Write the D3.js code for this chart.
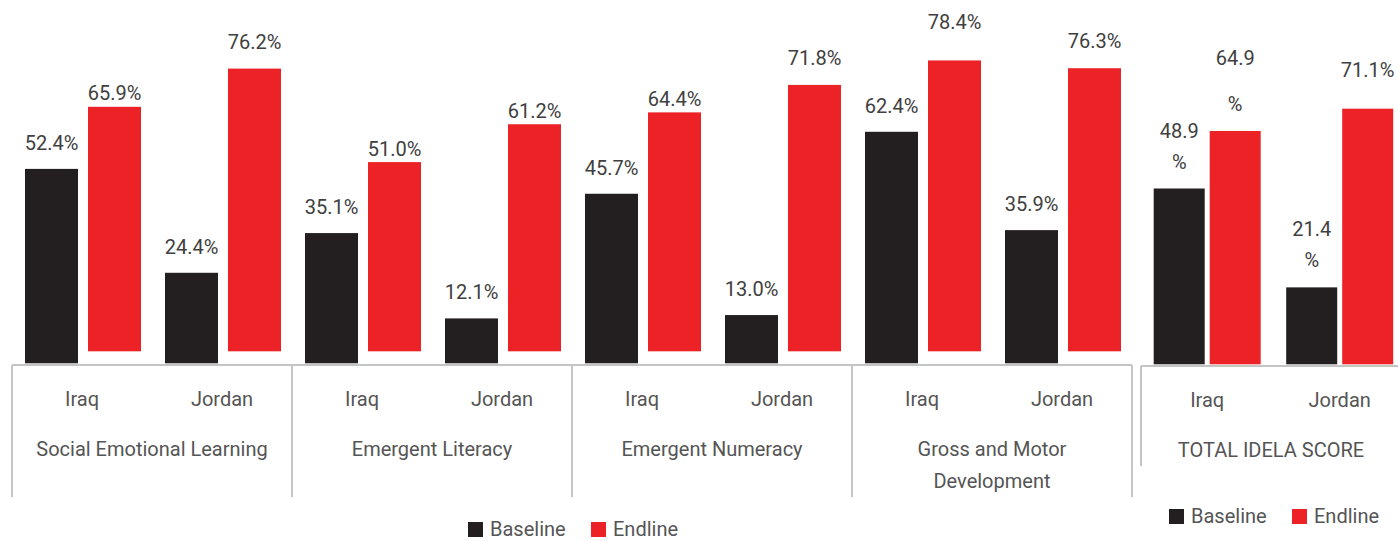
<html>
<head>
  <script src="https://d3js.org/d3.v7.min.js"></script>
  <style>
  body{
    margin: 0;
    background: #fff;
  }
  svg{
    display: block;
    font-family: Roboto, "Noto Sans", sans-serif;
  }
  </style>
</head>
<body>
  <script type="text/javascript">
    // data
    var groups = ["Social Emotional Learning", "Emergent Literacy", "Emergent Numeracy", "Gross and Motor Development"];
    var countries = ["Iraq", "Jordan"];
    var seriesNames = ["Baseline", "Endline"];
    var baseline = [[52.4, 24.4], [35.1, 12.1], [45.7, 13.0], [62.4, 35.9]];
    var endline = [[65.9, 76.2], [51.0, 61.2], [64.4, 71.8], [78.4, 76.3]];
    var totalName = "TOTAL IDELA SCORE";
    var totalBaseline = [48.9, 21.4];
    var totalEndline = [64.9, 71.1];

    // styles
    var width = 1398;
    var height = 541;
    var colors = {"Baseline": "#231f20", "Endline": "#ec2227"};
    var lineColor = "#c4c4c4";
    var textColor = "#555555";
    var labelColor = "#404040";
    var endlineLift = 12;   // endline bars sit a little above the axis
    // small manual nudges for value labels (like in the original slide)
    var labelLift = {"Endline|0|Jordan": 13.5, "Endline|2|Jordan": 13.5, "Endline|3|Jordan": 13.5, "Endline|3|Iraq": 24.5};
    var totalLayout = {
      "Baseline|Iraq": {wrap: true, gap: 31},
      "Baseline|Jordan": {wrap: true, gap: 31},
      "Endline|Iraq": {wrap: true, gap: 46},
      "Endline|Jordan": {wrap: false, lift: 32}
    };
    var fmt = function(v){ return d3.format(".1f")(v) + "%"; };

    var svg = d3.select("body").append("svg")
                .attr("width", width)
                .attr("height", height);

    // ---------- main chart ----------
    var x0 = d3.scaleBand().domain(groups).range([12, 1132]);
    var x1 = d3.scaleBand().domain(countries).range([0, x0.bandwidth()]);
    var x2 = d3.scaleBand().domain(seriesNames).range([13, 129]).paddingInner(0.159);
    var y = d3.scaleLinear().domain([0, 100]).range([363.3, 363.3 - 371]);
    var axisY = 365;

    var rows = [];
    groups.forEach(function(g, gi){
      countries.forEach(function(c, ci){
        rows.push({g: g, gi: gi, c: c, s: "Baseline", v: baseline[gi][ci]});
        rows.push({g: g, gi: gi, c: c, s: "Endline", v: endline[gi][ci]});
      });
    });

    var main = svg.append("g").attr("class", "main");

    main.selectAll("rect")
        .data(rows)
        .enter()
        .append("rect")
        .attr("x", function(d){ return x0(d.g) + x1(d.c) + x2(d.s); })
        .attr("y", function(d){ return y(d.v) - (d.s == "Endline" ? endlineLift : 0); })
        .attr("width", x2.bandwidth())
        .attr("height", function(d){ return y(0) - y(d.v); })
        .attr("fill", function(d){ return colors[d.s]; });

    main.selectAll("text.val")
        .data(rows)
        .enter()
        .append("text")
        .attr("class", "val")
        .text(function(d){ return fmt(d.v); })
        .attr("x", function(d){ return x0(d.g) + x1(d.c) + x2(d.s) + x2.bandwidth() / 2; })
        .attr("y", function(d){
          var top = y(d.v) - (d.s == "Endline" ? endlineLift : 0);
          var gap = d.s == "Endline" ? 6.5 : 19;
          return top - gap - (labelLift[d.s + "|" + d.gi + "|" + d.c] || 0);
        })
        .attr("text-anchor", "middle")
        .attr("fill", labelColor)
        .style("font-size", "20px");

    // axis lines
    main.append("line")
        .attr("x1", 12).attr("x2", 1132)
        .attr("y1", axisY).attr("y2", axisY)
        .attr("stroke", lineColor).attr("stroke-width", 2);
    main.selectAll("line.sep")
        .data(groups.concat(["end"]))
        .enter()
        .append("line")
        .attr("class", "sep")
        .attr("x1", function(d, i){ return 12 + i * x0.bandwidth(); })
        .attr("x2", function(d, i){ return 12 + i * x0.bandwidth(); })
        .attr("y1", axisY).attr("y2", 497)
        .attr("stroke", lineColor).attr("stroke-width", 2);

    // country labels
    groups.forEach(function(g){
      main.append("g").selectAll("text")
          .data(countries)
          .enter()
          .append("text")
          .text(function(d){ return d; })
          .attr("x", function(d){ return x0(g) + x1(d) + x1.bandwidth() / 2; })
          .attr("y", 406)
          .attr("text-anchor", "middle")
          .attr("fill", textColor)
          .style("font-size", "20px");
    });

    // group labels (wrapped)
    var wrapText = function(sel, maxW, lineH){
      sel.each(function(){
        var t = d3.select(this);
        var words = t.text().split(" ");
        var xx = t.attr("x");
        t.text(null);
        var line = [];
        var tsp = t.append("tspan").attr("x", xx);
        words.forEach(function(w){
          line.push(w);
          tsp.text(line.join(" "));
          if (tsp.node().getComputedTextLength() > maxW && line.length > 1) {
            line.pop();
            tsp.text(line.join(" "));
            line = [w];
            tsp = t.append("tspan").attr("x", xx).attr("dy", lineH).text(w);
          }
        });
      });
    };

    main.selectAll("text.grp")
        .data(groups)
        .enter()
        .append("text")
        .attr("class", "grp")
        .text(function(d){ return d; })
        .attr("x", function(d){ return x0(d) + x0.bandwidth() / 2; })
        .attr("y", 456)
        .attr("text-anchor", "middle")
        .attr("fill", textColor)
        .style("font-size", "20px")
        .call(wrapText, 255, 32);

    // ---------- total chart ----------
    var tx = d3.scaleBand().domain(countries).range([1141, 1406]);
    var ts = d3.scaleBand().domain(seriesNames).range([12.7, 119.7]).paddingInner(0.089);
    var ty = d3.scaleLinear().domain([0, 100]).range([364.3, 364.3 - 359.5]);

    var trows = [];
    countries.forEach(function(c, ci){
      trows.push({c: c, s: "Baseline", v: totalBaseline[ci]});
      trows.push({c: c, s: "Endline", v: totalEndline[ci]});
    });

    var tot = svg.append("g").attr("class", "total");

    tot.selectAll("rect")
       .data(trows)
       .enter()
       .append("rect")
       .attr("x", function(d){ return tx(d.c) + ts(d.s); })
       .attr("y", function(d){ return ty(d.v); })
       .attr("width", ts.bandwidth())
       .attr("height", function(d){ return ty(0) - ty(d.v); })
       .attr("fill", function(d){ return colors[d.s]; });

    trows.forEach(function(d){
      var lay = totalLayout[d.s + "|" + d.c];
      var cx = tx(d.c) + ts(d.s) + ts.bandwidth() / 2;
      var top = ty(d.v);
      if (lay.wrap) {
        tot.append("text").text(d3.format(".1f")(d.v))
           .attr("x", cx).attr("y", top - 20 - lay.gap)
           .attr("text-anchor", "middle").attr("fill", labelColor)
           .style("font-size", "20px");
        tot.append("text").text("%")
           .attr("x", cx).attr("y", top - 20)
           .attr("text-anchor", "middle").attr("fill", labelColor)
           .style("font-size", "20px");
      } else {
        tot.append("text").text(fmt(d.v))
           .attr("x", cx).attr("y", top - lay.lift)
           .attr("text-anchor", "middle").attr("fill", labelColor)
           .style("font-size", "20px");
      }
    });

    tot.append("line")
       .attr("x1", 1141).attr("x2", 1398)
       .attr("y1", 366).attr("y2", 366)
       .attr("stroke", lineColor).attr("stroke-width", 2);
    tot.append("line")
       .attr("x1", 1141).attr("x2", 1141)
       .attr("y1", 366).attr("y2", 466)
       .attr("stroke", lineColor).attr("stroke-width", 2);

    tot.selectAll("text.cty")
       .data(countries)
       .enter()
       .append("text")
       .attr("class", "cty")
       .text(function(d){ return d; })
       .attr("x", function(d){ return tx(d) + ts(seriesNames[0]) + (ts(seriesNames[1]) + ts.bandwidth() - ts(seriesNames[0])) / 2; })
       .attr("y", 407)
       .attr("text-anchor", "middle")
       .attr("fill", textColor)
       .style("font-size", "20px");

    tot.append("text")
       .text(totalName)
       .attr("x", 1271)
       .attr("y", 456.7)
       .attr("text-anchor", "middle")
       .attr("fill", textColor)
       .style("font-size", "20px");

    // ---------- legends ----------
    var drawLegend = function(x, yy){
      var lg = svg.append("g").attr("transform", "translate(" + x + "," + yy + ")");
      var offs = [0, 123];
      seriesNames.forEach(function(s, i){
        lg.append("rect")
          .attr("x", offs[i]).attr("y", -14)
          .attr("width", 15).attr("height", 15)
          .attr("fill", colors[s]);
        lg.append("text")
          .text(s)
          .attr("x", offs[i] + 22)
          .attr("y", 0)
          .attr("fill", textColor)
          .style("font-size", "20px");
      });
    };
    drawLegend(468, 536);
    drawLegend(1169, 523);

    </script>
  </body>
</html>
